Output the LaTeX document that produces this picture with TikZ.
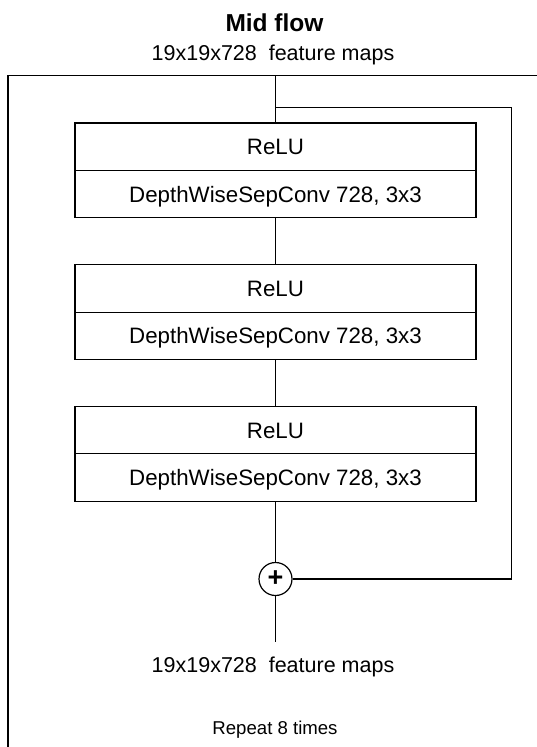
\documentclass[tikz,border=0pt]{standalone}
\usepackage{fontspec}
\setmainfont{Liberation Sans}
\begin{document}
\begin{tikzpicture}[x=1pt,y=-1pt,line width=1.2pt,
  mainfont/.style={font=\fontsize{21.5}{24}\selectfont, text height=15.4pt, text depth=0pt},
  boxfont/.style={font=\fontsize{22.3}{25}\selectfont, text height=16pt, text depth=0pt},
  half/.style={draw, boxfont, minimum width=401pt, minimum height=47.3pt, inner sep=0pt},
  lbl/.style={mainfont, inner sep=0pt},
  title/.style={font=\bfseries\fontsize{24.5}{27}\selectfont, text height=17.6pt, text depth=0pt, inner sep=0pt},
  small/.style={font=\fontsize{18.6}{21}\selectfont, text height=13.3pt, text depth=0pt, inner sep=0pt},
  adder/.style={draw, circle, fill=white, minimum size=33pt, inner sep=0pt, font=\bfseries\fontsize{27}{28}\selectfont}]
\useasboundingbox (0,0) rectangle (537,747);
% texts
\node[title] (ttl) at (274.5,22.5) {Mid flow};
\node[lbl] (topfm) at (273,53) {19x19x728\ \ feature maps};
% outer repeat frame
\coordinate (fbl) at (8,747);
\coordinate (ftl) at (8,75.7);
\coordinate (ftr) at (537,75.7);
\draw (fbl) -- (ftl) -- (ftr);
% blocks
\node[half] (relu1) at (275.5,146.7) {ReLU};
\node[half] (conv1) at (275.5,194.0) {DepthWiseSepConv 728, 3x3};
\node[half] (relu2) at (275.5,288.5) {ReLU};
\node[half] (conv2) at (275.5,335.8) {DepthWiseSepConv 728, 3x3};
\node[half] (relu3) at (275.5,430.2) {ReLU};
\node[half] (conv3) at (275.5,477.5) {DepthWiseSepConv 728, 3x3};
\node[adder] (plus) at (275.5,579) {\raisebox{1.5pt}{+}};
\node[lbl] (botfm) at (273,665) {19x19x728\ \ feature maps};
\node[small] (rep) at (275,728) {Repeat 8 times};
% connectors
\coordinate (ftop) at (275.5,75.7);
\coordinate (split) at (275.5,107.5);
\coordinate (rc) at (511.5,107.5);
\coordinate (outend) at (275.5,642);
\draw (ftop) -- (relu1.north);
\draw (conv1.south) -- (relu2.north);
\draw (conv2.south) -- (relu3.north);
\draw (conv3.south) -- (plus.north);
\draw (split) -- (rc) |- (plus.east);
\draw (plus.south) -- (outend);
\end{tikzpicture}
\end{document}
